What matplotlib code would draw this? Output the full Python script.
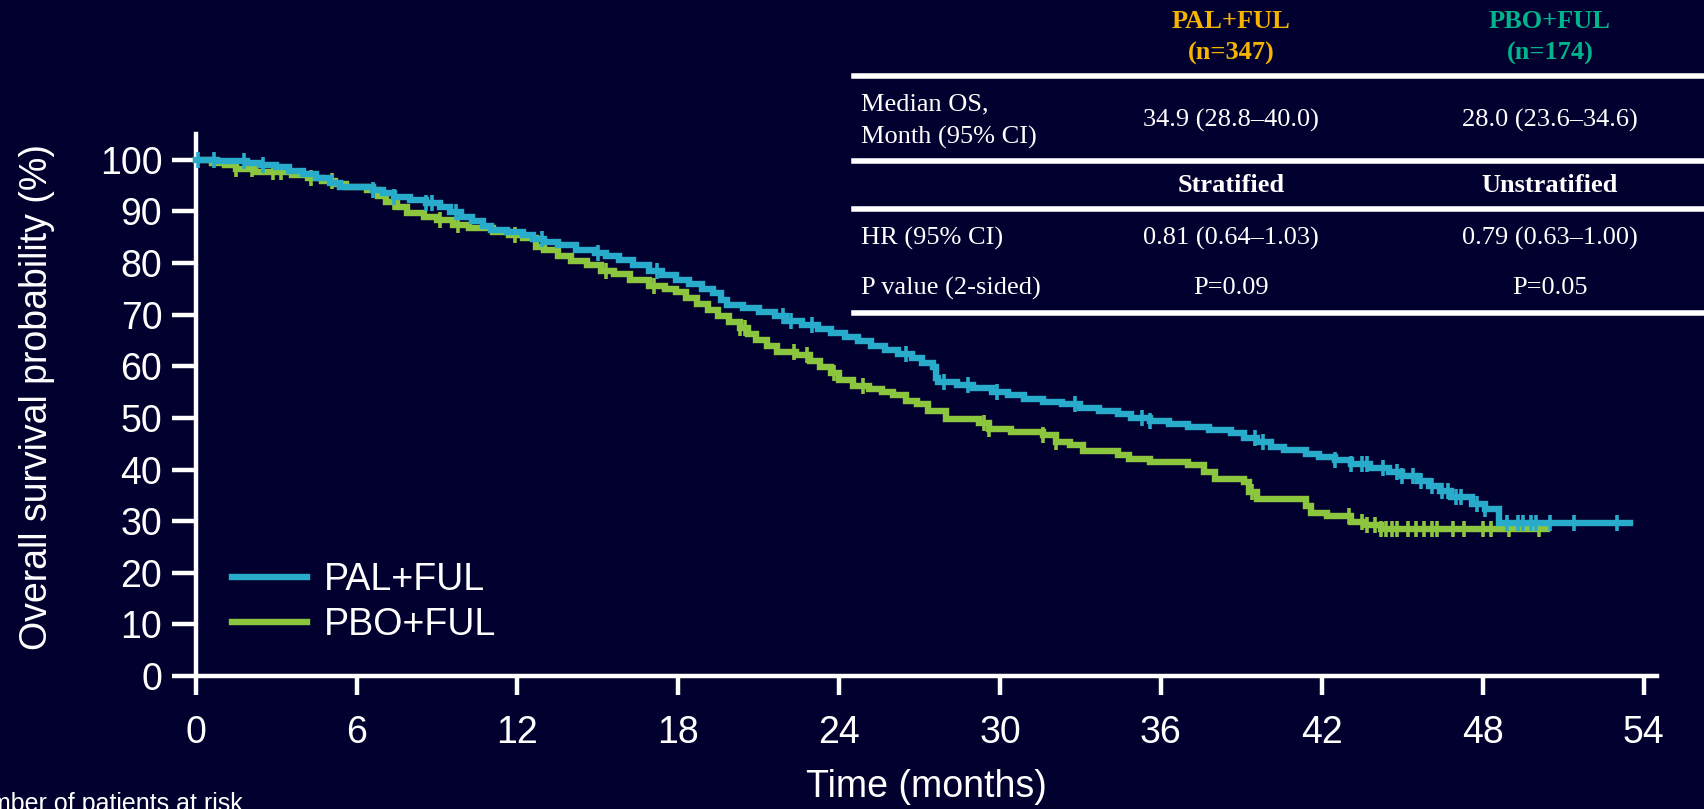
import numpy as np
import matplotlib.pyplot as plt
from matplotlib.lines import Line2D

plt.rcParams['font.family'] = ['Liberation Sans', 'DejaVu Sans']

BG = '#02002e'
PAL_COLOR = '#29accb'
PBO_COLOR = '#8cc63f'
GOLD = '#f5b400'
TEAL = '#00b48c'

# Kaplan-Meier steps: time (months) -> survival (%) after the step
pal_t = [0, 0.8, 1.9, 2.4, 3.0, 3.5, 4.0, 4.5, 5.0, 5.4, 6.6, 7.0, 7.4, 8.0, 8.6,
         9.1, 9.5, 9.9, 10.3, 10.7, 11.0, 11.6, 12.2, 12.6, 13.0, 13.5, 14.2, 14.9,
         15.3, 15.8, 16.3, 16.9, 17.4, 17.9, 18.4, 18.9, 19.3, 19.6, 19.8, 20.4,
         21.0, 21.6, 22.0, 22.6, 23.2, 23.7, 24.2, 24.7, 25.2, 25.7, 26.2, 26.7,
         27.1, 27.5, 27.6, 27.7, 28.4, 29.0, 29.7, 30.3, 30.9, 31.6, 32.3, 33.0,
         33.7, 34.4, 34.9, 35.6, 36.3, 37.0, 37.8, 38.6, 39.1, 39.6, 40.1, 40.6,
         41.4, 41.9, 42.5, 43.1, 43.8, 44.5, 45.0, 45.6, 46.0, 46.4, 46.8, 47.6,
         48.1, 48.6]
pal_s = [100, 99.7, 99.4, 99.0, 98.6, 97.9, 97.2, 96.4, 95.5, 94.8, 94.2, 93.5,
         92.8, 92.3, 91.7, 90.8, 89.9, 89.0, 88.1, 87.2, 86.4, 86.0, 85.4, 84.6,
         84.0, 83.4, 82.6, 82.0, 81.3, 80.5, 79.6, 78.5, 77.6, 76.8, 75.9, 75.0,
         74.1, 72.8, 71.8, 71.2, 70.5, 69.7, 68.8, 68.0, 67.2, 66.4, 65.6, 64.8,
         64.0, 63.2, 62.3, 61.6, 60.7, 59.8, 57.8, 56.9, 56.3, 55.8, 55.0, 54.4,
         53.7, 53.1, 52.6, 52.0, 51.4, 50.7, 49.9, 49.4, 48.8, 48.2, 47.6, 47.0,
         46.2, 45.3, 44.4, 43.7, 43.1, 42.4, 41.8, 41.0, 40.3, 39.6, 38.8, 37.8,
         36.8, 35.8, 34.6, 33.4, 32.4, 29.6]
pal_end = 53.5
pal_cens = [0.1, 0.7, 1.8, 2.5, 6.6, 7.4, 8.6, 8.8, 9.7, 12.9, 15.0, 17.2, 21.9,
            22.2, 23.0, 26.5, 27.9, 28.8, 29.9, 32.8, 35.3, 35.6, 39.5, 39.8, 42.5,
            43.1, 43.5, 43.7, 44.3, 44.8, 45.0, 45.4, 45.7, 46.1, 46.5, 46.7, 47.0,
            47.2, 47.8, 48.1, 48.9, 49.3, 49.5, 49.8, 50.0, 50.5, 51.4, 53.0]

pbo_t = [0, 0.6, 1.1, 1.5, 2.2, 3.6, 4.2, 4.7, 5.2, 5.6, 6.4, 6.8, 7.1, 7.5, 7.9,
         8.5, 9.0, 9.6, 10.2, 11.1, 11.7, 12.2, 12.7, 13.0, 13.5, 14.0, 14.6, 15.1,
         15.6, 16.2, 16.9, 17.5, 17.9, 18.3, 18.7, 19.1, 19.5, 19.9, 20.3, 20.6,
         20.9, 21.3, 21.7, 22.4, 22.9, 23.3, 23.7, 24.0, 24.5, 25.1, 25.6, 26.0,
         26.5, 26.9, 27.3, 28.0, 29.2, 29.6, 30.4, 31.6, 32.1, 32.6, 33.1, 34.4,
         34.8, 35.6, 37.0, 37.6, 38.0, 39.1, 39.3, 39.6, 41.4, 41.6, 42.2, 43.1,
         43.6, 44.2]
pbo_s = [100, 99.4, 98.9, 98.3, 97.7, 97.1, 96.5, 95.9, 95.3, 94.7, 94.1, 93.0,
         91.9, 90.8, 89.6, 89.0, 88.4, 87.3, 86.7, 86.1, 85.5, 84.9, 83.2, 82.6,
         81.4, 80.3, 79.7, 78.5, 77.9, 76.8, 75.6, 75.0, 74.4, 73.2, 72.1, 70.9,
         69.7, 68.6, 67.4, 66.3, 65.1, 63.9, 62.8, 62.2, 61.0, 59.8, 58.6, 57.4,
         56.2, 55.6, 55.0, 54.4, 53.2, 52.6, 51.4, 49.8, 49.1, 47.9, 47.3, 46.6,
         45.4, 44.7, 43.5, 42.8, 42.1, 41.5, 40.8, 39.5, 38.2, 37.5, 35.6, 34.3,
         33.0, 31.6, 30.9, 29.9, 29.2, 28.5]
pbo_end = 50.4
pbo_cens = [1.5, 2.1, 2.9, 3.2, 4.3, 5.1, 7.4, 9.1, 9.8, 11.9, 15.3, 17.1, 20.3,
            20.5, 22.3, 22.8, 23.8, 24.9, 29.4, 29.6, 31.6, 32.1, 39.4, 43.0, 43.5,
            43.7, 44.0, 44.2, 44.4, 44.6, 44.8, 45.2, 45.5, 45.8, 46.1, 46.3, 46.9,
            47.3, 48.0, 48.3, 49.0, 50.1]

y_ticks = list(range(0, 101, 10))
x_ticks = list(range(0, 55, 6))

table_cols = ['PAL+FUL\n(n=347)', 'PBO+FUL\n(n=174)']
median_os = ['34.9 (28.8–40.0)', '28.0 (23.6–34.6)']
hr_kind = ['Stratified', 'Unstratified']
hr_ci = ['0.81 (0.64–1.03)', '0.79 (0.63–1.00)']
p_vals = ['P=0.09', 'P=0.05']


def surv_at(times, surv, t):
    idx = np.searchsorted(times, t, side='right') - 1
    return np.asarray(surv)[idx]


fig = plt.figure(figsize=(17.04, 8.09), dpi=100, facecolor=BG)
ax = fig.add_axes([0.1148, 0.1644, 0.8576, 0.670], facecolor=BG)

for t, s, end, cens, col, z in [(pbo_t, pbo_s, pbo_end, pbo_cens, PBO_COLOR, 2),
                                (pal_t, pal_s, pal_end, pal_cens, PAL_COLOR, 3)]:
    ax.step(t + [end], s + [s[-1]], where='post', color=col, lw=4.6,
            solid_joinstyle='miter', zorder=z, clip_on=False)
    ax.plot(cens, surv_at(t, s, cens), ls='none', marker='|', ms=12, mew=2.6,
            color=col, zorder=z, clip_on=False)

ax.set_xlim(0, 54.5)
ax.set_ylim(0, 105)
ax.set_xticks(x_ticks)
ax.set_yticks(y_ticks)
for side in ['top', 'right']:
    ax.spines[side].set_visible(False)
for side in ['left', 'bottom']:
    ax.spines[side].set_color('white')
    ax.spines[side].set_linewidth(3.2)
ax.tick_params(colors='white', labelsize=27, width=3.2)
ax.tick_params(axis='y', length=17, pad=7)
ax.tick_params(axis='x', length=14, pad=14)

ax.set_ylabel('Overall survival probability (%)', color='white', fontsize=27)
ax.yaxis.set_label_coords(-0.096, 0.515)
ax.set_xlabel('Time (months)', color='white', fontsize=27)
ax.xaxis.set_label_coords(0.5, -0.172)

handles = [Line2D([], [], color=PAL_COLOR, lw=4.6),
           Line2D([], [], color=PBO_COLOR, lw=4.6)]
leg = ax.legend(handles, ['PAL+FUL', 'PBO+FUL'], loc='lower left',
                bbox_to_anchor=(0.025, 0.06), borderaxespad=0, borderpad=0,
                frameon=False, fontsize=27, handlelength=2.0, handletextpad=0.45,
                labelspacing=0.25)
for txt in leg.get_texts():
    txt.set_color('white')

# summary table in the upper right
W, H = 1704, 809
serif = 'Liberation Serif'
fs = 19


def fx(px):
    return px / W


def fy(py):
    return 1 - py / H


for py in [76, 161, 209, 313]:
    fig.add_artist(Line2D([fx(854), 1.0], [fy(py), fy(py)], color='white',
                          lw=4.0, transform=fig.transFigure))

col_x = [1231, 1550]
for cx, label, c in zip(col_x, table_cols, [GOLD, TEAL]):
    top, bottom = label.split('\n')
    fig.text(fx(cx), fy(21), top, color=c, family=serif, fontsize=fs,
             weight='bold', ha='center', va='center')
    fig.text(fx(cx), fy(53), bottom, color=c, family=serif, fontsize=fs,
             weight='bold', ha='center', va='center')

fig.text(fx(861), fy(104), 'Median OS,', color='white', family=serif,
         fontsize=fs, va='center')
fig.text(fx(861), fy(137), 'Month (95% CI)', color='white', family=serif,
         fontsize=fs, va='center')
fig.text(fx(861), fy(238), 'HR (95% CI)', color='white', family=serif,
         fontsize=fs, va='center')
fig.text(fx(861), fy(288), 'P value (2-sided)', color='white', family=serif,
         fontsize=fs, va='center')

for i, cx in enumerate(col_x):
    fig.text(fx(cx), fy(120), median_os[i], color='white', family=serif,
             fontsize=fs, ha='center', va='center')
    fig.text(fx(cx), fy(185), hr_kind[i], color='white', family=serif,
             fontsize=fs, weight='bold', ha='center', va='center')
    fig.text(fx(cx), fy(238), hr_ci[i], color='white', family=serif,
             fontsize=fs, ha='center', va='center')
    fig.text(fx(cx), fy(288), p_vals[i], color='white', family=serif,
             fontsize=fs, ha='center', va='center')

fig.text(fx(-42), fy(811), 'Number of patients at risk', color='white',
         fontsize=18, va='baseline')

fig.savefig('out.png', dpi=100, facecolor=BG)
